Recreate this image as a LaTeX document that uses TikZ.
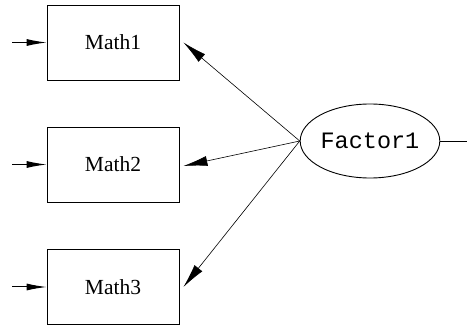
\documentclass[tikz,border=0pt]{standalone}
\usepackage{fontspec}
\setmainfont{Liberation Serif}
\newfontfamily\monof{Liberation Mono}
\usetikzlibrary{arrows.meta,shapes.geometric}
\begin{document}
\begin{tikzpicture}[x=1pt,y=-1pt,
  obs/.style={draw,line width=0.9pt,minimum width=132pt,minimum height=75pt,inner sep=0pt,font=\fontsize{21.5}{21.5}\selectfont},
  lat/.style={draw,ellipse,line width=0.9pt,minimum width=134pt,minimum height=74pt,inner sep=0pt,font=\monof\fontsize{23.5}{23.5}\selectfont},
  load/.style={line width=0.6pt,-{Latex[length=24pt,width=10pt]}},
  err/.style={line width=1pt,-{Latex[length=20pt,width=7pt]}}]
\useasboundingbox (0,0) rectangle (467,329);
\node[obs] (m1) at (113,42.5) {Math1};
\node[obs] (m2) at (113,164.5) {Math2};
\node[obs] (m3) at (113,287) {Math3};
\node[lat] (f) at (370,141) {Factor1};
\coordinate (e1) at (12,42.5);
\coordinate (e2) at (12,164.5);
\coordinate (e3) at (12,287);
\coordinate (r) at (467,141);
\draw[err] (e1) -- (m1.west);
\draw[err] (e2) -- (m2.west);
\draw[err] (e3) -- (m3.west);
\draw[load] (f.west) -- ([xshift=4pt]m1.east);
\draw[load] (f.west) -- ([xshift=4pt,yshift=-1.5pt]m2.east);
\draw[load] (f.west) -- ([xshift=4pt]m3.east);
\draw[line width=0.9pt] (f.east) -- (r);
\end{tikzpicture}
\end{document}
